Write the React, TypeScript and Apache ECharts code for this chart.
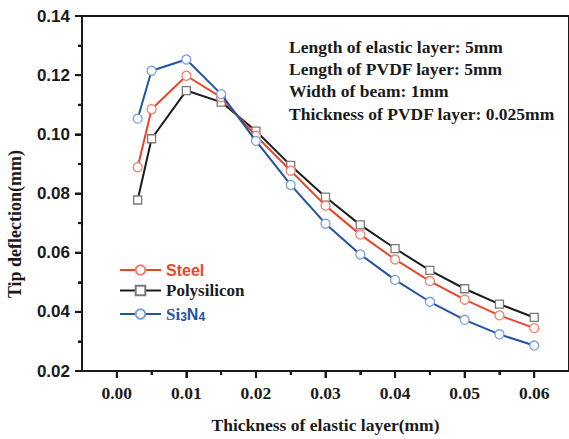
import React, { useEffect, useRef } from "react";
import * as echarts from "echarts";

const thickness = [0.003, 0.005, 0.01, 0.015, 0.02, 0.025, 0.03, 0.035, 0.04, 0.045, 0.05, 0.055, 0.06];
const steel = [0.0889, 0.1085, 0.1198, 0.1125, 0.0995, 0.0877, 0.0759, 0.0661, 0.0577, 0.0504, 0.0441, 0.0388, 0.0345];
const polysilicon = [0.0778, 0.0985, 0.1148, 0.1109, 0.1011, 0.0895, 0.0788, 0.0694, 0.0614, 0.054, 0.0478, 0.0426, 0.0381];
const si3n4 = [0.1053, 0.1215, 0.1253, 0.1136, 0.0978, 0.0829, 0.0698, 0.0594, 0.0508, 0.0434, 0.0373, 0.0324, 0.0286];
const xMajorTicks = [0, 0.01, 0.02, 0.03, 0.04, 0.05, 0.06];
const xMinorTicks = [0.005, 0.015, 0.025, 0.035, 0.045, 0.055];
const yMajorTicks = [0.02, 0.04, 0.06, 0.08, 0.1, 0.12, 0.14];
const yMinorTicks = [0.03, 0.05, 0.07, 0.09, 0.11, 0.13];
const notes = [
  "Length of elastic layer: 5mm",
  "Length of PVDF layer: 5mm",
  "Width of beam: 1mm",
  "Thickness of PVDF layer: 0.025mm",
];

const X_MIN = -0.005;
const X_MAX = 0.065;
const Y_MIN = 0.02;
const Y_MAX = 0.14;

const SERIF = "'Liberation Serif', 'Times New Roman', serif";
const SANS = "'Liberation Sans', Arial, sans-serif";
const RED = "#E8472B";
const BLACK = "#1c1c1c";
const BLUE = "#2253A3";
const AX = "#1a1a1a";

export default function App() {
  const ref = useRef<HTMLDivElement>(null);
  useEffect(() => {
    if (!ref.current) return;
    const chart = echarts.init(ref.current, undefined, { renderer: "svg" });
    const mk = (arr: number[]) => thickness.map((x, i) => [x, arr[i]]);
    const textEls: any[] = [
      {
        type: "text",
        x: 15,
        y: 224,
        rotation: Math.PI / 2,
        style: {
          text: "Tip deflection(mm)",
          fontFamily: SERIF,
          fontWeight: "bold",
          fontSize: 18,
          fill: AX,
          align: "center",
          verticalAlign: "middle",
        },
      },
      ...notes.map((t, i) => ({
        type: "text",
        x: 289,
        y: 46.7 + i * 22.3,
        style: {
          text: t,
          fontFamily: SERIF,
          fontWeight: "bold",
          fontSize: 17.5,
          fill: AX,
          align: "left",
          verticalAlign: "middle",
        },
      })),
    ];
    chart.setOption({
      animation: false,
      grid: {
        left: 82,
        top: 16,
        right: -3,
        bottom: 61,
        show: true,
        borderColor: AX,
        borderWidth: 2,
        backgroundColor: "transparent",
      },
      xAxis: [
        {
          type: "value",
          min: X_MIN,
          max: X_MAX,
          position: "bottom",
          axisLine: { show: true, onZero: false, lineStyle: { color: AX, width: 2 } },
          axisTick: { show: true, customValues: xMajorTicks, length: 7, lineStyle: { color: AX, width: 2 } },
          axisLabel: {
            customValues: xMajorTicks,
            formatter: (v: number) => v.toFixed(2),
            fontFamily: SERIF,
            fontWeight: "bold",
            fontSize: 17.5,
            color: AX,
            margin: 13,
          },
          splitLine: { show: false },
          name: "Thickness of elastic layer(mm)",
          nameLocation: "middle",
          nameGap: 45,
          nameTextStyle: { fontFamily: SERIF, fontWeight: "bold", fontSize: 17.5, color: AX },
        },
        {
          type: "value",
          min: X_MIN,
          max: X_MAX,
          position: "bottom",
          axisLine: { show: false, onZero: false },
          axisTick: { show: true, customValues: xMinorTicks, length: 4, lineStyle: { color: AX, width: 2 } },
          axisLabel: { show: false },
          splitLine: { show: false },
        },
      ],
      yAxis: {
        type: "value",
        min: Y_MIN,
        max: Y_MAX,
        interval: 0.02,
        axisLine: { show: true, onZero: false, lineStyle: { color: AX, width: 2 } },
        axisTick: { show: true, length: 7, lineStyle: { color: AX, width: 2 } },
        minorTick: { show: true, splitNumber: 2, length: 4, lineStyle: { color: AX, width: 2 } },
        axisLabel: {
          formatter: (v: number) => v.toFixed(2),
          fontFamily: SANS,
          fontWeight: "bold",
          fontSize: 17,
          color: AX,
          margin: 12,
        },
        splitLine: { show: false },
      },
      legend: {
        orient: "vertical",
        left: 114,
        top: 257,
        itemWidth: 41,
        itemHeight: 12,
        itemGap: 4,
        data: [
          { name: "Steel", textStyle: { color: RED, fontFamily: SANS, fontWeight: "bold", fontSize: 16 } },
          { name: "Polysilicon", textStyle: { color: BLACK, fontFamily: SERIF, fontWeight: "bold", fontSize: 17 } },
          { name: "Si3N4", textStyle: { color: BLUE } },
        ],
        formatter: (name: string) => (name === "Si3N4" ? "{a|Si}{b|3}{c|N}{b|4}" : name),
        textStyle: {
          rich: {
            a: { fontFamily: SERIF, fontWeight: "bold", fontSize: 17, color: BLUE, lineHeight: 18, verticalAlign: "middle" },
            b: { fontFamily: SANS, fontWeight: "bold", fontSize: 12, color: BLUE, lineHeight: 18, verticalAlign: "bottom", padding: [8, 0, 0, 0] },
            c: { fontFamily: SANS, fontWeight: "bold", fontSize: 16, color: BLUE, lineHeight: 18, verticalAlign: "middle" },
          },
        },
      },
      graphic: { elements: textEls },
      series: [
        {
          name: "Steel",
          type: "line",
          data: mk(steel),
          symbol: "circle",
          symbolSize: 9,
          lineStyle: { color: RED, width: 2 },
          itemStyle: { color: "#fff", borderColor: "#F0826E", borderWidth: 1.3 },
          z: 3,
        },
        {
          name: "Polysilicon",
          type: "line",
          data: mk(polysilicon),
          symbol: "rect",
          symbolSize: 8,
          lineStyle: { color: BLACK, width: 2 },
          itemStyle: { color: "#fff", borderColor: "#7a7a7a", borderWidth: 1.3 },
          z: 2,
        },
        {
          name: "Si3N4",
          type: "line",
          data: mk(si3n4),
          symbol: "circle",
          symbolSize: 9,
          lineStyle: { color: BLUE, width: 2 },
          itemStyle: { color: "#fff", borderColor: "#7D9FDB", borderWidth: 1.3 },
          z: 4,
        },
      ],
    });

    // Frame and ticks placed through the chart's own scales (fallback overlay).
    try {
      const px = (x: number, y: number) => chart.convertToPixel({ gridIndex: 0 }, [x, y]) as number[];
      const tl = px(X_MIN, Y_MAX);
      const br = px(X_MAX, Y_MIN);
      const stroke = { stroke: AX, lineWidth: 2 };
      const lines: any[] = [
        {
          type: "rect",
          z: 100,
          silent: true,
          shape: { x: tl[0], y: tl[1], width: br[0] - tl[0], height: br[1] - tl[1] },
          style: { fill: "none", ...stroke },
        },
      ];
      const bottom = br[1];
      const left = tl[0];
      xMajorTicks.forEach((v) => {
        const p = px(v, Y_MIN)[0];
        lines.push({ type: "line", z: 100, silent: true, shape: { x1: p, y1: bottom, x2: p, y2: bottom + 7 }, style: stroke });
      });
      xMinorTicks.forEach((v) => {
        const p = px(v, Y_MIN)[0];
        lines.push({ type: "line", z: 100, silent: true, shape: { x1: p, y1: bottom, x2: p, y2: bottom + 4 }, style: stroke });
      });
      yMajorTicks.forEach((v) => {
        const p = px(X_MIN, v)[1];
        lines.push({ type: "line", z: 100, silent: true, shape: { x1: left - 7, y1: p, x2: left, y2: p }, style: stroke });
      });
      yMinorTicks.forEach((v) => {
        const p = px(X_MIN, v)[1];
        lines.push({ type: "line", z: 100, silent: true, shape: { x1: left - 4, y1: p, x2: left, y2: p }, style: stroke });
      });
      if (lines.every((l) => Object.values(l.shape).every((n: any) => Number.isFinite(n)))) {
        chart.setOption({ graphic: { elements: [...textEls, ...lines] } });
      }
    } catch (e) {
      // keep chart as is
    }
    return () => chart.dispose();
  }, []);
  return (
    <div
      ref={ref}
      style={{ position: "fixed", left: 0, top: 0, width: 569, height: 439, background: "#fff" }}
    />
  );
}
